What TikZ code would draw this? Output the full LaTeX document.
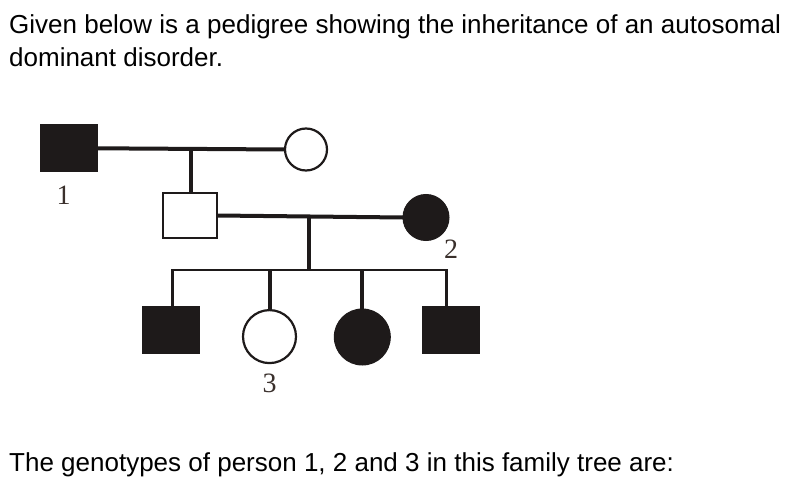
\documentclass[tikz,border=0pt]{standalone}
\usepackage{fontspec}
\setmainfont{Liberation Sans}
\newfontfamily\labelfont{Liberation Serif}
\definecolor{ink}{HTML}{1E1A1A}
\definecolor{lbl}{HTML}{3A302C}
\begin{document}
\begin{tikzpicture}[x=1pt,y=-1pt,
  txt/.style={anchor=base west,inner sep=0pt,font=\fontsize{26}{33}\selectfont},
  sqfill/.style={rectangle,draw=ink,fill=ink,line width=1pt,minimum width=57pt,minimum height=47pt,inner sep=0pt,outer sep=0pt},
  sqopen/.style={rectangle,draw=ink,fill=white,line width=2.2pt,minimum width=54pt,minimum height=45pt,inner sep=0pt,outer sep=0pt},
  cfill/.style={circle,draw=ink,fill=ink,line width=1pt,inner sep=0pt,outer sep=0pt},
  copen/.style={circle,draw=ink,fill=white,line width=2.2pt,inner sep=0pt,outer sep=0pt},
  mate/.style={draw=ink,line width=4pt},
  thin/.style={draw=ink,line width=2.6pt},
  num/.style={inner sep=0pt,text=lbl,font=\labelfont\fontsize{28}{28}\selectfont}]
\useasboundingbox (0,0) rectangle (800,489);
\fill[white] (0,0) rectangle (800,489);
% texts
\node[txt] (t1) at (9,33.3) {Given below is a pedigree showing the inheritance of an autosomal};
\node[txt] (t2) at (9,66.7) {dominant disorder.};
\node[txt] (t3) at (9,471.7) {The genotypes of person 1, 2 and 3 in this family tree are:};
% generation I
\node[sqfill] (p1) at (69.2,148.3) {};
\node[copen,minimum size=42pt] (m1) at (306,149.5) {};
\node[num] (l1) at (63.5,195) {1};
\draw[mate] (p1.east) -- (m1.west);
\coordinate (d1) at (190.7,149.3);
% generation II
\node[sqopen] (p2) at (190,215.5) {};
\node[cfill,minimum size=46pt] (m2) at (426,217.5) {};
\node[num] (l2) at (451,249) {2};
\draw[mate] (d1) -- (d1 |- p2.north);
\draw[mate] (p2.east) -- (m2.west);
\coordinate (d2) at (309,217.3);
\coordinate (sibL) at (172.5,270);
\coordinate (sibR) at (446.7,270);
\draw[mate] (d2) -- (d2 |- sibL);
\draw[thin] ([xshift=-1.3pt]sibL) -- ([xshift=1.3pt]sibR);
% generation III
\node[sqfill] (c1) at (171.3,329.5) {};
\node[copen,minimum size=53pt] (c2) at (269.5,336.6) {};
\node[cfill,minimum size=56pt] (c3) at (362.3,337) {};
\node[sqfill] (c4) at (450.5,329.5) {};
\node[num] (l3) at (269.5,383.5) {3};
\draw[thin] (sibL) -- (sibL |- c1.north);
\draw[mate] (c2.north |- sibL) -- (c2.north);
\draw[mate] (c3.north |- sibL) -- (c3.north);
\draw[thin] (sibR) -- (sibR |- c4.north);
\end{tikzpicture}
\end{document}
